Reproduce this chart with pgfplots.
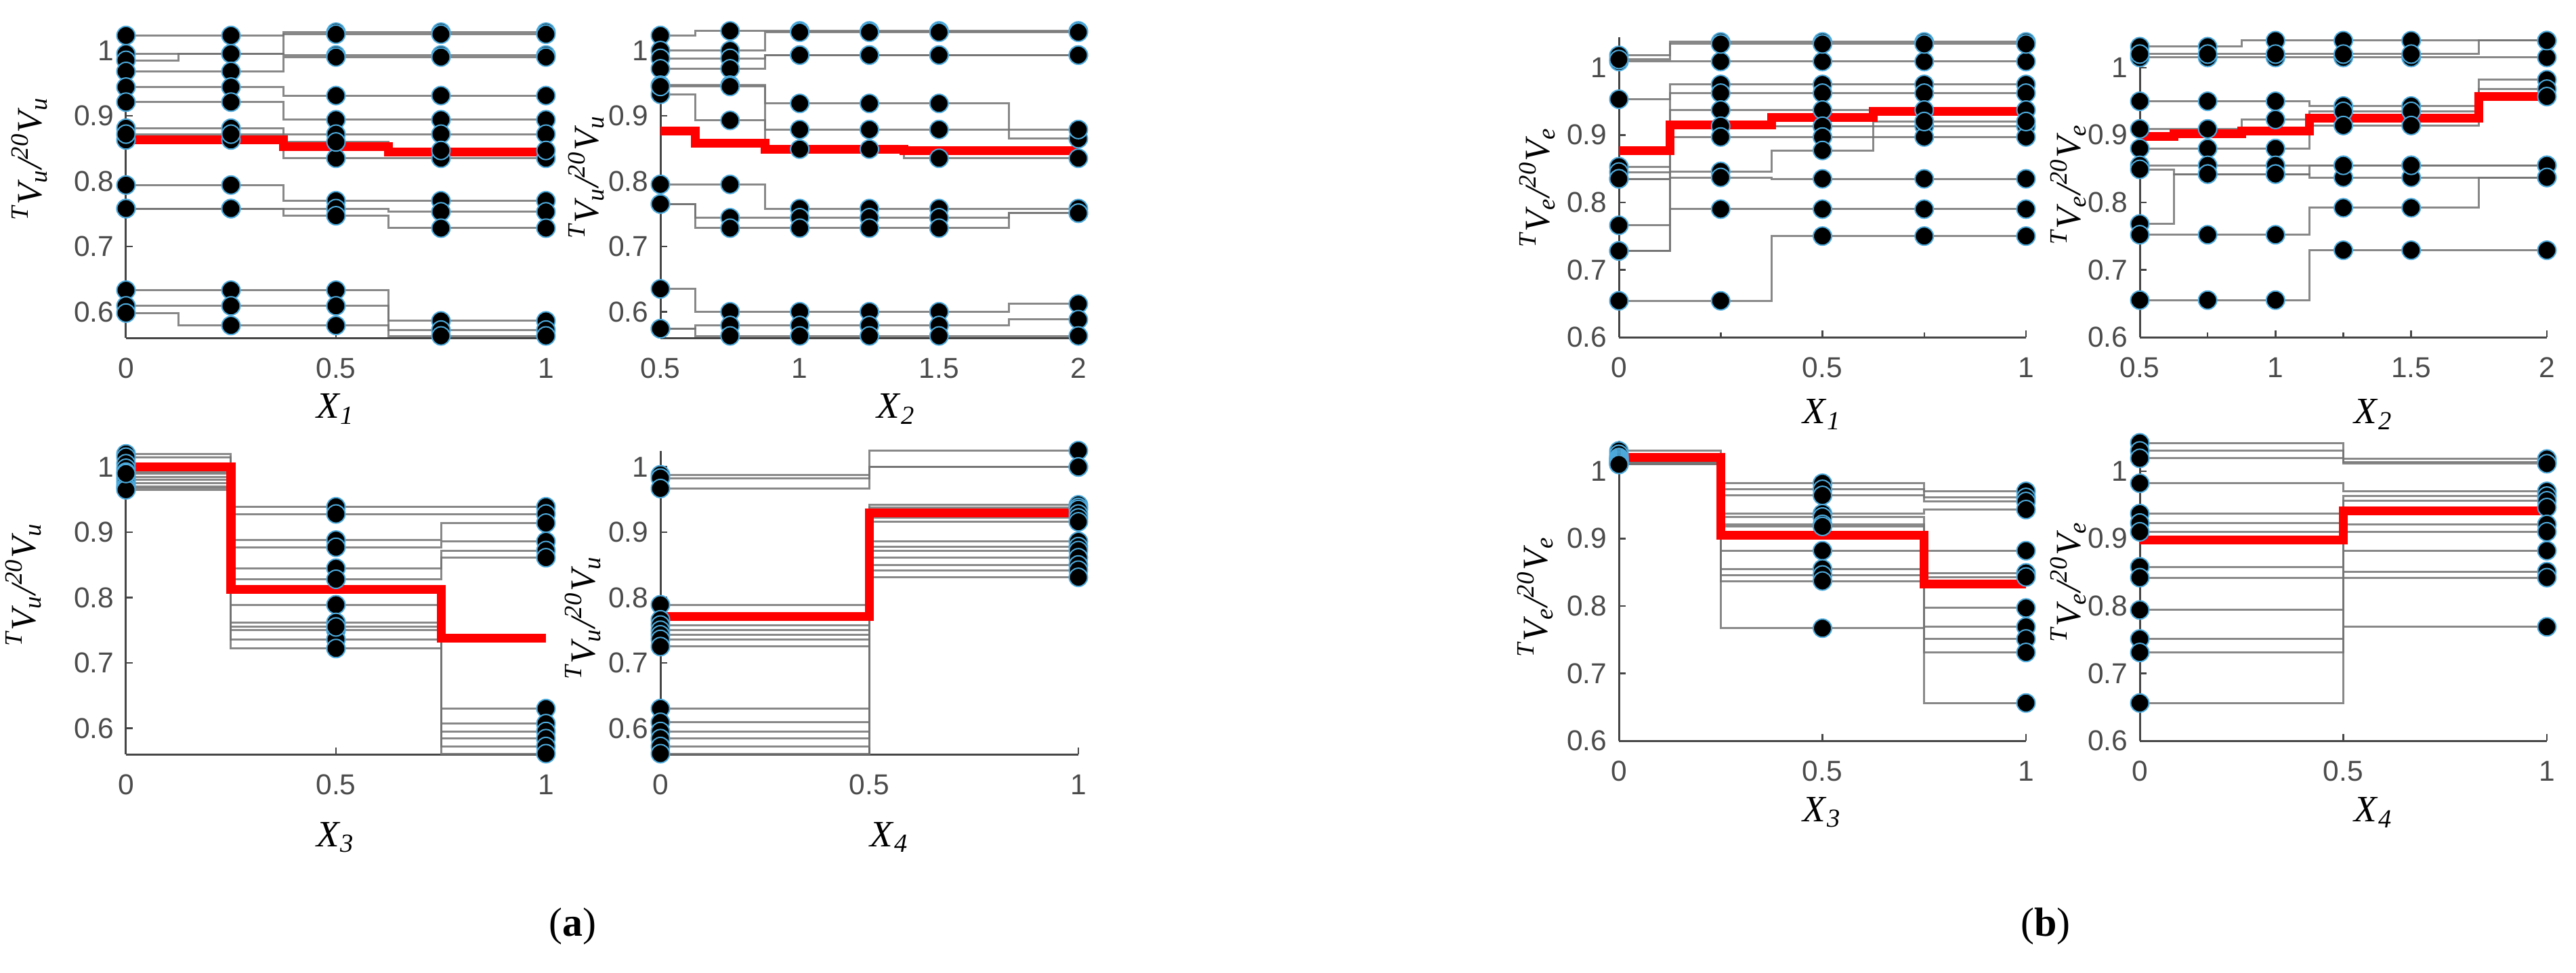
\documentclass[border=0pt]{standalone}
\usepackage{fontspec}
\setmainfont{Liberation Serif}
\newfontfamily\arial{Liberation Sans}
\usepackage{pgfplots}
\usepackage{pgfplotstable}
\pgfplotsset{compat=1.18}

\definecolor{gline}{RGB}{115,115,115}
\definecolor{dotedge}{RGB}{77,170,220}
\definecolor{axgray}{RGB}{70,70,70}
\definecolor{tickgray}{RGB}{75,75,75}

% (a) X1
\pgfplotstableread{
x    l1    l2    l3    l4    l5    l6    l7    l8    l9    l10   l11   l12   l13   l14   l15   r
0    1.023 0.995 0.985 0.968 0.944 0.921 0.881 0.863 0.794 0.758 0.758 0.633 0.609 0.598 0.872 0.863
0.25 1.023 0.995 0.995 0.968 0.944 0.921 0.881 0.863 0.794 0.758 0.758 0.633 0.609 0.579 0.872 0.863
0.5  1.028 1.025 0.993 0.990 0.931 0.894 0.872 0.835 0.770 0.758 0.747 0.633 0.609 0.579 0.860 0.853
0.75 1.028 1.025 0.993 0.990 0.931 0.894 0.872 0.835 0.770 0.753 0.728 0.586 0.572 0.563 0.847 0.845
1    1.028 1.025 0.993 0.990 0.931 0.894 0.872 0.835 0.770 0.753 0.728 0.586 0.572 0.563 0.847 0.845
}\tAa
% (a) X2
\pgfplotstableread{
x    l1    l2    l3    l4    l5    l6    l7    l8    l9    l10   l11   l12   l13   r
0.5  1.023 1.000 0.988 0.972 0.947 0.933 0.945 0.795 0.765 0.765 0.635 0.574 0.574 0.877
0.75 1.030 1.000 0.988 0.972 0.947 0.893 0.945 0.795 0.744 0.728 0.600 0.579 0.563 0.858
1    1.030 1.028 0.993 0.993 0.919 0.879 0.849 0.758 0.744 0.728 0.600 0.579 0.563 0.849
1.25 1.030 1.028 0.993 0.993 0.919 0.879 0.849 0.758 0.744 0.728 0.600 0.579 0.563 0.849
1.5  1.030 1.028 0.993 0.993 0.919 0.879 0.835 0.758 0.744 0.728 0.600 0.579 0.563 0.847
2    1.030 1.028 0.993 0.993 0.865 0.879 0.835 0.758 0.751 0.751 0.612 0.588 0.563 0.847
}\tAb
% (a) X3
\pgfplotstableread{
x    l1    l2    l3    l4    l5    l6    l7    l8    l9    l10   l11   l12   r
0    1.020 1.015 1.005 0.998 0.992 0.985 0.980 0.975 0.970 0.968 0.965 0.990 1.000
0.5  0.939 0.928 0.888 0.877 0.845 0.828 0.789 0.762 0.750 0.736 0.722 0.755 0.812
1    0.939 0.928 0.914 0.886 0.872 0.861 0.630 0.607 0.595 0.584 0.572 0.561 0.738
}\tAc
% (a) X4
\pgfplotstableread{
x  l1    l2    l3    l4    l5    l6    l7    l8    l9    l10   l11   l12   l13   l14   l15   l16   r
0  0.988 0.983 0.967 0.789 0.766 0.758 0.750 0.743 0.736 0.725 0.630 0.609 0.595 0.584 0.572 0.561 0.771
1  1.025 1.000 1.000 0.942 0.938 0.935 0.928 0.922 0.916 0.886 0.878 0.872 0.861 0.850 0.842 0.831 0.930
}\tAd
% (b) X1
\pgfplotstableread{
x    l1    l2    l3    l4    l5    l6    l7    l8    l9    l10   l11   l12   r
0    1.018 1.009 1.012 0.953 0.853 0.845 0.835 0.766 0.728 0.835 0.728 0.654 0.877
0.25 1.038 1.009 1.035 0.975 0.962 0.937 0.913 0.897 0.846 0.837 0.790 0.654 0.915
0.5  1.038 1.009 1.035 0.975 0.962 0.937 0.913 0.897 0.877 0.835 0.790 0.750 0.926
0.75 1.038 1.009 1.035 0.975 0.962 0.937 0.913 0.897 0.920 0.835 0.790 0.750 0.935
1    1.038 1.009 1.035 0.975 0.962 0.937 0.913 0.897 0.920 0.835 0.790 0.750 0.935
}\tBa
% (b) X2
\pgfplotstableread{
x    l1    l2    l3    l4    l5    l6    l7    l8    l9    l10   l11   r
0.5  1.031 1.015 1.020 0.950 0.909 0.880 0.855 0.849 0.768 0.752 0.655 0.898
0.75 1.031 1.015 1.020 0.950 0.909 0.880 0.855 0.842 0.842 0.752 0.655 0.902
1    1.040 1.015 1.020 0.950 0.923 0.880 0.855 0.842 0.842 0.752 0.655 0.906
1.25 1.040 1.015 1.020 0.943 0.935 0.914 0.855 0.837 0.855 0.792 0.729 0.925
1.5  1.040 1.015 1.020 0.943 0.935 0.914 0.855 0.837 0.855 0.792 0.729 0.925
2    1.040 1.015 1.040 0.982 0.968 0.957 0.855 0.837 0.855 0.837 0.729 0.957
}\tBb
% (b) X3
\pgfplotstableread{
x    l1    l2    l3    l4    l5    l6    l7    l8    l9    l10   l11   l12   r
0    1.030 1.025 1.020 1.015 1.010 1.012 1.020 1.018 1.016 1.014 1.012 1.010 1.020
0.5  0.982 0.973 0.964 0.937 0.932 0.921 0.918 0.882 0.855 0.846 0.837 0.767 0.905
1    0.970 0.961 0.955 0.943 0.882 0.849 0.797 0.769 0.751 0.731 0.656 0.843 0.833
}\tBc
% (b) X4
\pgfplotstableread{
x  l1    l2    l3    l4    l5    l6    l7    l8    l9    l10   l11   l12   l13   r
0  1.042 1.030 1.019 0.982 0.937 0.923 0.910 0.858 0.842 0.794 0.751 0.731 0.656 0.898
1  1.013 1.018 1.011 0.970 0.963 0.956 0.946 0.921 0.910 0.882 0.851 0.842 0.769 0.941
}\tBd

\pgfplotsset{
  sub/.style={
    scale only axis, clip=false,
    axis lines*=left,
    tick align=inside, major tick length=2pt, minor tick length=1.5pt,
    axis line style={line width=0.6pt, color=axgray},
    every tick/.style={line width=0.5pt, color=axgray},
    tick label style={font=\arial\fontsize{8.5}{10}\selectfont, text=tickgray},
    xticklabel style={yshift=-2.5pt},
    /pgf/number format/assume math mode=true,
    /pgf/number format/fixed,
    xlabel style={font=\fontsize{11}{13}\selectfont, anchor=center},
    ylabel style={font=\fontsize{10.5}{12}\selectfont\itshape, anchor=center},
  },
  panA/.style={sub, width=124pt, height=89.7pt, ymin=0.56, ymax=1.025,
    ytick={0.6,0.7,0.8,0.9,1},
    ylabel={\textsuperscript{T}V\textsubscript{u}/\textsuperscript{20}V\textsubscript{u}}},
  panB/.style={sub, width=120.2pt, height=88.6pt, ymin=0.6, ymax=1.045,
    ytick={0.6,0.7,0.8,0.9,1},
    ylabel={\textsuperscript{T}V\textsubscript{e}/\textsuperscript{20}V\textsubscript{e}}},
  gline/.style={const plot mark mid, no marks, color=gline, line width=0.6pt, draw opacity=0.85},
  gdots/.style={only marks, mark=*, mark size=2.7pt,
    mark options={fill=black, draw=dotedge, line width=0.4pt}},
  rline/.style={const plot mark mid, no marks, color=red, line width=2.6pt},
}

\newcommand{\drawset}[2]{%
  \pgfplotsinvokeforeach{1,...,#2}{\addplot[gline] table[x=x,y=l##1]{#1};}
  \pgfplotsinvokeforeach{1,...,#2}{\addplot[gdots] table[x=x,y=l##1]{#1};}
  \addplot[rline] table[x=x,y=r]{#1};
}

\begin{document}
\begin{tikzpicture}
\useasboundingbox (0,0) rectangle (760.6pt,287.2pt);

% ---- panel (a) ----
\begin{axis}[panA, at={(37.2pt,187.4pt)}, anchor=south west,
  xmin=0, xmax=1, xtick={0,0.5,1},
  xlabel={\textit{X}\textsubscript{\textit{1}}},
  xlabel style={at={(axis description cs:0.5,0)}, yshift=-21pt},
  ylabel style={at={(axis description cs:-0.23,0.59)}}]
\drawset{\tAa}{15}
\end{axis}

\begin{axis}[panA, at={(195pt,187.4pt)}, anchor=south west,
  width=123.4pt, xmin=0.5, xmax=2, xtick={0.5,1,1.5,2},
  xlabel={\textit{X}\textsubscript{\textit{2}}},
  xlabel style={at={(axis description cs:0.5,0)}, yshift=-21pt, xshift=8pt},
  ylabel style={at={(axis description cs:-0.177,0.53)}}]
\drawset{\tAb}{13}
\end{axis}

\begin{axis}[panA, at={(37.2pt,64.4pt)}, anchor=south west,
  xmin=0, xmax=1, xtick={0,0.5,1},
  xlabel={\textit{X}\textsubscript{\textit{3}}},
  xlabel style={at={(axis description cs:0.5,0)}, yshift=-24.5pt},
  ylabel style={at={(axis description cs:-0.244,0.56)}}]
\drawset{\tAc}{12}
\end{axis}

\begin{axis}[panA, at={(195pt,64.4pt)}, anchor=south west,
  width=123.4pt, xmin=0, xmax=1, xtick={0,0.5,1},
  xlabel={\textit{X}\textsubscript{\textit{4}}},
  xlabel style={at={(axis description cs:0.5,0)}, yshift=-24.5pt, xshift=6pt},
  ylabel style={at={(axis description cs:-0.186,0.45)}}]
\drawset{\tAd}{16}
\end{axis}

% ---- panel (b) ----
\begin{axis}[panB, at={(478pt,187.6pt)}, anchor=south west,
  xmin=0, xmax=1, xtick={0,0.5,1}, minor xtick={0.25,0.75},
  xlabel={\textit{X}\textsubscript{\textit{1}}},
  xlabel style={at={(axis description cs:0.5,0)}, yshift=-22.8pt},
  ylabel style={at={(axis description cs:-0.2,0.5)}}]
\drawset{\tBa}{12}
\end{axis}

\begin{axis}[panB, at={(631.8pt,187.6pt)}, anchor=south west,
  xmin=0.5, xmax=2, xtick={0.5,1,1.5,2}, minor xtick={0.75,1.25},
  xlabel={\textit{X}\textsubscript{\textit{2}}},
  xlabel style={at={(axis description cs:0.5,0)}, yshift=-22.8pt, xshift=9pt},
  ylabel style={at={(axis description cs:-0.176,0.51)}}]
\drawset{\tBb}{11}
\end{axis}

\begin{axis}[panB, at={(478pt,68.4pt)}, anchor=south west,
  xmin=0, xmax=1, xtick={0,0.5,1},
  xlabel={\textit{X}\textsubscript{\textit{3}}},
  xlabel style={at={(axis description cs:0.5,0)}, yshift=-21.2pt},
  ylabel style={at={(axis description cs:-0.205,0.48)}}]
\drawset{\tBc}{12}
\end{axis}

\begin{axis}[panB, at={(631.8pt,68.4pt)}, anchor=south west,
  xmin=0, xmax=1, xtick={0,0.5,1},
  xlabel={\textit{X}\textsubscript{\textit{4}}},
  xlabel style={at={(axis description cs:0.5,0)}, yshift=-21.2pt, xshift=9pt},
  ylabel style={at={(axis description cs:-0.176,0.53)}}]
\drawset{\tBd}{13}
\end{axis}

\node[font=\fontsize{12}{14}\selectfont] at (169pt,13.6pt) {(\textbf{a})};
\node[font=\fontsize{12}{14}\selectfont] at (604pt,13.6pt) {(\textbf{b})};
\end{tikzpicture}
\end{document}
